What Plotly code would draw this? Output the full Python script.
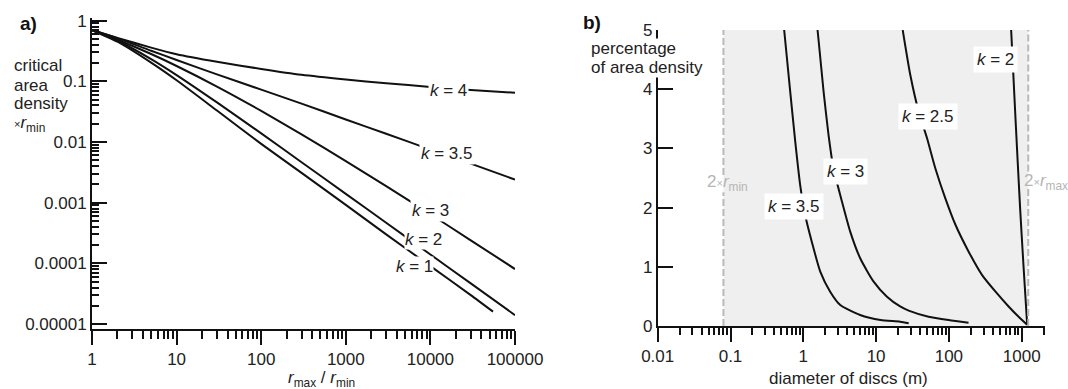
import plotly.graph_objects as go

W, H = 1068, 389
FONT = "Liberation Sans, Arial, sans-serif"
INK = "#111111"

# ---- panel a: critical area density x r_min vs r_max / r_min ----
ratio = [1, 2, 5, 10, 30, 100, 300, 1000, 3000, 10000, 30000, 100000]
ratio_k1 = [1, 2, 5, 10, 30, 100, 300, 1000, 3000, 10000, 30000, 55000]
dens_k4 = [0.70, 0.52, 0.36, 0.28, 0.21, 0.16, 0.128, 0.107, 0.093, 0.081, 0.072, 0.065]
dens_k35 = [0.70, 0.51, 0.32, 0.225, 0.13, 0.073, 0.043, 0.0235, 0.0137, 0.0075, 0.0044, 0.0024]
dens_k3 = [0.70, 0.485, 0.282, 0.179, 0.082, 0.0326, 0.0134, 0.00484, 0.00187, 0.000645, 0.00024, 0.0000806]
dens_k2 = [0.70, 0.467, 0.233, 0.127, 0.045, 0.0139, 0.00465, 0.0014, 0.000467, 0.00014, 0.0000467, 0.000014]
dens_k1 = [0.70, 0.45, 0.203, 0.104, 0.033, 0.0093, 0.0031, 0.00092, 0.00030, 0.00009, 0.00003, 0.000016]

a_xticks = [1, 10, 100, 1000, 10000, 100000]
a_xtick_text = ["1", "10", "100", "1000", "10000", "100000"]
a_yticks = [1e-5, 1e-4, 1e-3, 1e-2, 1e-1, 1]
a_ytick_text = ["0.00001", "0.0001", "0.001", "0.01", "0.1", "1"]

# ---- panel b: percentage of area density vs disc diameter ----
diam_k35 = [0.546, 0.661, 0.776, 0.906, 1.06, 1.31, 1.71, 2.34, 3.22, 6.03, 11.5, 21.4, 28.0]
pct_k35 = [5.0, 3.96, 3.11, 2.38, 1.875, 1.42, 0.92, 0.58, 0.355, 0.186, 0.10, 0.073, 0.045]
diam_k3 = [1.57, 1.90, 2.22, 2.60, 3.40, 4.42, 6.07, 9.25, 14.1, 21.4, 28.0, 52.5, 99.0, 186]
pct_k3 = [5.0, 3.96, 3.23, 2.66, 2.10, 1.59, 1.14, 0.75, 0.495, 0.33, 0.26, 0.157, 0.10, 0.056]
diam_k25 = [23.2, 29.5, 38.5, 50.1, 65.2, 89.1, 123, 186, 286, 437, 661, 900, 1190]
pct_k25 = [5.0, 4.24, 3.62, 3.17, 2.66, 2.16, 1.71, 1.26, 0.86, 0.58, 0.33, 0.16, 0.02]
diam_k2 = [716, 830, 950, 1060, 1190]
pct_k2 = [5.0, 3.4, 2.0, 1.0, 0.02]

b_xticks = [0.01, 0.1, 1, 10, 100, 1000]
b_xtick_text = ["0.01", "0.1", "1", "10", "100", "1000"]
b_yticks = [0, 1, 2, 3, 4, 5]

two_rmin = 0.08     # 2 x r_min (m)
two_rmax = 1230     # 2 x r_max (m)


def minor_log(lo_exp, hi_exp, limit):
    vals = []
    for e in range(lo_exp, hi_exp + 1):
        for d in range(2, 10):
            v = d * 10 ** e
            if v <= limit:
                vals.append(v)
    return vals


fig = go.Figure()

for xs, ys in [(ratio, dens_k4), (ratio, dens_k35), (ratio, dens_k3),
               (ratio, dens_k2), (ratio_k1, dens_k1)]:
    fig.add_trace(go.Scatter(x=xs, y=ys, mode="lines",
                             line=dict(color=INK, width=2, shape="spline", smoothing=0.6),
                             xaxis="x", yaxis="y", showlegend=False, hoverinfo="skip"))

for xs, ys in [(diam_k35, pct_k35), (diam_k3, pct_k3), (diam_k25, pct_k25), (diam_k2, pct_k2)]:
    fig.add_trace(go.Scatter(x=xs, y=ys, mode="lines",
                             line=dict(color=INK, width=2, shape="spline", smoothing=0.6),
                             xaxis="x2", yaxis="y2", showlegend=False, hoverinfo="skip"))

tickfont = dict(family=FONT, size=17, color="#222222")

axis_common = dict(showgrid=False, zeroline=False, showline=True, linecolor=INK,
                   linewidth=2, tickcolor=INK, tickwidth=2, tickfont=tickfont,
                   automargin=False)

fig.update_layout(
    template="none",
    width=W, height=H,
    margin=dict(l=0, r=0, t=0, b=0, pad=0),
    paper_bgcolor="white", plot_bgcolor="white",
    font=dict(family=FONT, size=17, color="#222222"),
    xaxis=dict(axis_common, type="log", domain=[92 / W, 515 / W], range=[0, 5],
               anchor="y", ticks="outside", ticklen=14,
               tickmode="array", tickvals=a_xticks, ticktext=a_xtick_text,
               minor=dict(ticks="outside", ticklen=8, tickwidth=1.5, tickcolor=INK,
                          tickmode="array", tickvals=minor_log(0, 4, 100000))),
    yaxis=dict(axis_common, type="log", domain=[1 - 329 / H, 1 - 18 / H],
               range=[-5.082, 0.044], anchor="x", ticks="inside", ticklen=15,
               tickmode="array", tickvals=a_yticks, ticktext=a_ytick_text,
               minor=dict(ticks="inside", ticklen=7, tickwidth=1.5, tickcolor=INK,
                          tickmode="array", tickvals=minor_log(-5, -1, 1))),
    xaxis2=dict(axis_common, type="log", domain=[657.7 / W, 1045 / W], range=[-2, 3.32],
                anchor="y2", ticks="outside", ticklen=14,
                tickmode="array", tickvals=b_xticks, ticktext=b_xtick_text,
                minor=dict(ticks="outside", ticklen=7, tickwidth=1.5, tickcolor=INK,
                           tickmode="array", tickvals=minor_log(-2, 3, 2000))),
    yaxis2=dict(axis_common, domain=[1 - 326 / H, 1 - 30 / H], range=[0, 5],
                anchor="x2", ticks="inside", ticklen=15, linewidth=1.6,
                tickmode="array", tickvals=b_yticks),
)

# shaded band between 2 x r_min and 2 x r_max
fig.add_shape(type="rect", xref="x2", yref="y2",
              x0=two_rmin, x1=two_rmax, y0=0, y1=5,
              fillcolor="#efefef", line=dict(width=0), layer="below")
dash = dict(color="#b9b9b9", width=2, dash="7px,3px")
for xv, gap in [(two_rmin, (2.26, 2.55)), (two_rmax, (2.33, 2.61))]:
    fig.add_shape(type="line", xref="x2", yref="y2", x0=xv, x1=xv, y0=0, y1=gap[0], line=dash)
    fig.add_shape(type="line", xref="x2", yref="y2", x0=xv, x1=xv, y0=gap[1], y1=5, line=dash)


def note(text, px, py, xanchor="center", size=17, color="#222222", bg=None, pad=1):
    fig.add_annotation(text=text, xref="paper", yref="paper", x=px / W, y=1 - py / H,
                       xanchor=xanchor, yanchor="middle", showarrow=False,
                       font=dict(family=FONT, size=size, color=color),
                       bgcolor=bg, borderpad=pad)


# panel labels and titles
note("<b>a)</b>", 28, 24, size=19, color="#111111")
note("<b>b)</b>", 592, 22, size=19, color="#111111")
note("critical", 12, 65, xanchor="left")
note("area", 12, 85, xanchor="left")
note("density", 12, 104, xanchor="left")
note("<span style='font-size:11px'>×</span><i>r</i><sub>min</sub>", 12, 124, xanchor="left")
note("<i>r</i><sub>max</sub> / <i>r</i><sub>min</sub>", 321, 379, pad=0)
note("percentage", 590, 48, xanchor="left", bg="white", pad=0)
note("of area density", 590, 68, xanchor="left", bg="white", pad=0)
note("diameter of discs (m)", 848, 378)
note("2<span style='font-size:11px'>×</span><i>r</i><sub>min</sub>", 705, 183, xanchor="left", color="#b5b5b5")
note("2<span style='font-size:11px'>×</span><i>r</i><sub>max</sub>", 1022, 182, xanchor="left", color="#b5b5b5")

# curve labels, panel a
note("<i>k</i> = 4", 448, 90, bg="white")
note("<i>k</i> = 3.5", 447, 153, bg="white")
note("<i>k</i> = 3", 430, 210, bg="white")
note("<i>k</i> = 2", 423, 239, bg="white", pad=0)
note("<i>k</i> = 1", 414, 266, bg="white", pad=0)

# curve labels, panel b
note("<i>k</i> = 3.5", 794, 206, bg="white", pad=3)
note("<i>k</i> = 3", 845, 171, bg="white", pad=3)
note("<i>k</i> = 2.5", 928, 116, bg="white", pad=3)
note("<i>k</i> = 2", 995, 60, bg="white", pad=3)

fig.write_html("out.html")
